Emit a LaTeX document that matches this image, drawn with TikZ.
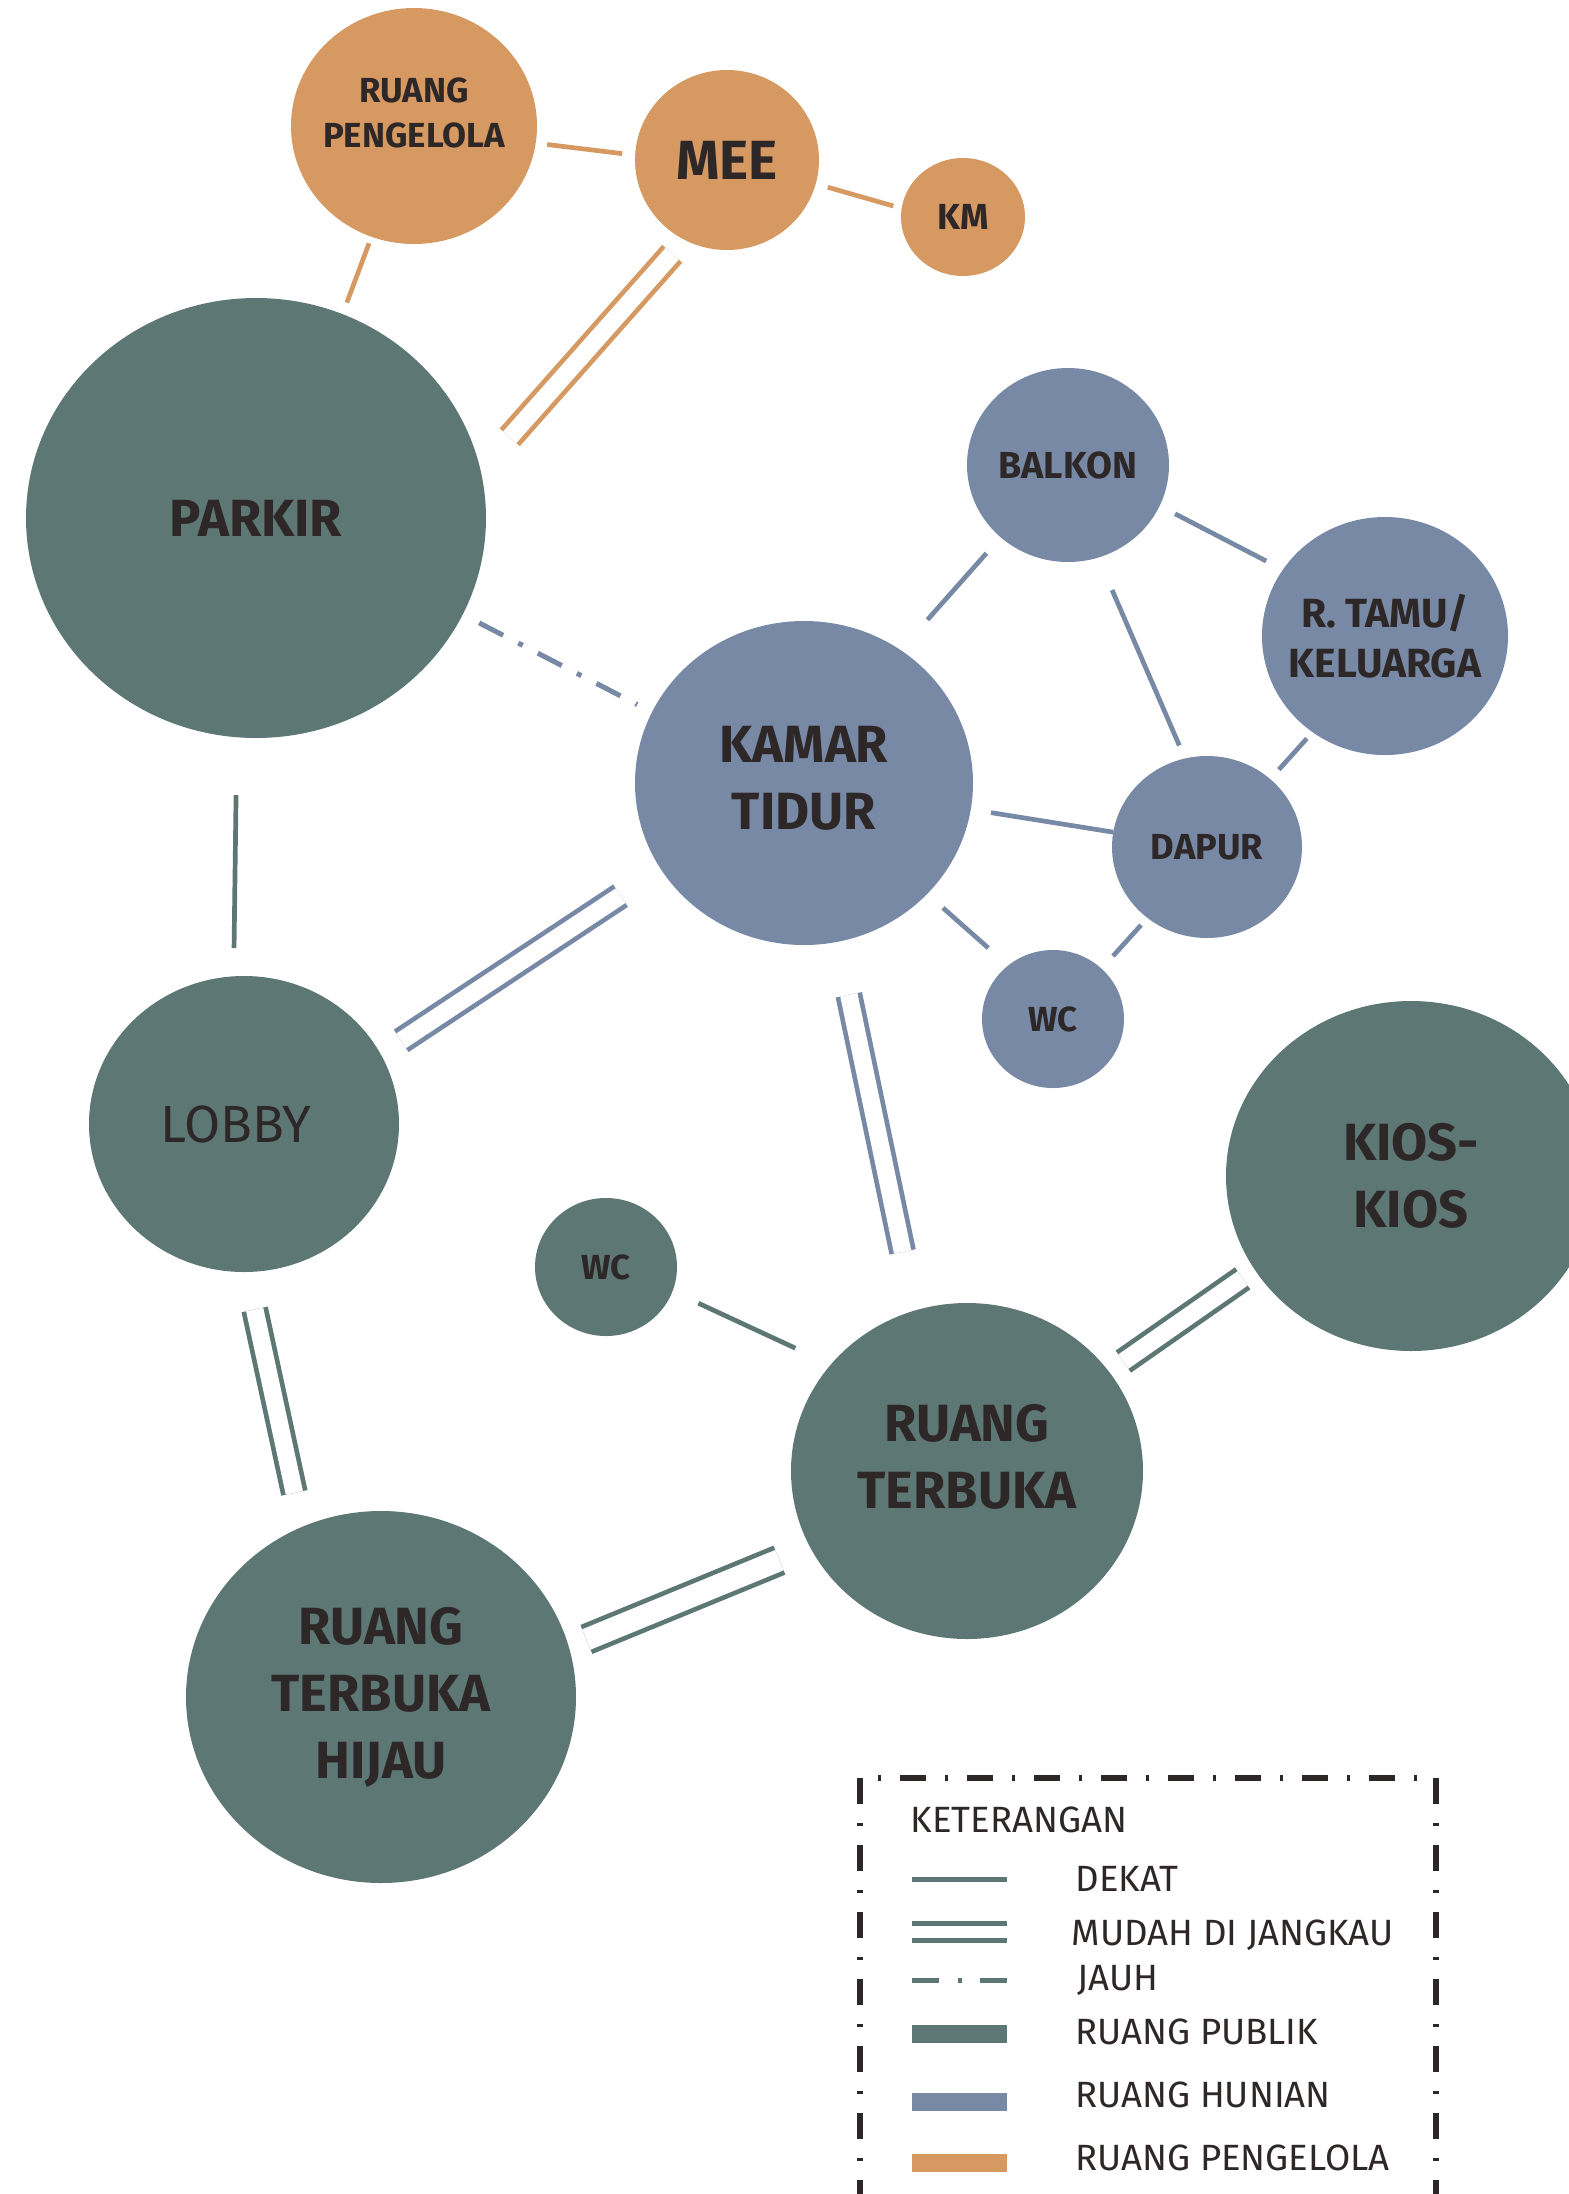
\documentclass[tikz,border=0pt]{standalone}
\usepackage{fontspec}
\setmainfont{Fira Sans}
\usepackage{tikz}
\usetikzlibrary{positioning}
\usetikzlibrary{shapes.geometric}
\usepackage{xcolor}
\definecolor{hijauPublik}{HTML}{5D7774}
\definecolor{biruHunian}{HTML}{7889A6}
\definecolor{oranyePengelola}{HTML}{D69962}
\definecolor{tinta}{HTML}{2E2727}

\tikzset{
  ruang/.style={ellipse, inner sep=-3mm, outer sep=0pt, text=tinta, align=center},
  publik/.style={ruang, fill=hijauPublik},
  hunian/.style={ruang, fill=biruHunian},
  kelola/.style={ruang, fill=oranyePengelola},
  ukuran/.style 2 args={minimum width=#1mm, minimum height=#2mm},
  besar/.style={font=\bfseries\fontsize{14.9}{19.1}\selectfont},
  isi/.style={align=center, text=tinta, inner sep=0pt},
  dekat/.style={line width=0.47mm},
  mudah/.style={line width=0.47mm, double=white, double distance=1.75mm},
  jauh/.style={line width=0.5mm, dash pattern=on 2.7mm off 1.7mm on 0.5mm off 1.7mm},
  ket/.style={anchor=west, inner sep=0pt, text=tinta, font=\fontsize{10.4}{12}\selectfont},
  bingkai/.style={tinta, line width=0.6mm, dash pattern=on 2.6mm off 1.9mm on 0.3mm off 1.9mm}
}

\begin{document}
\begin{tikzpicture}[x=0.1mm, y=-0.1mm]

\useasboundingbox (0,0) rectangle (1569,2194);

\node[kelola, ukuran={24.6}{23.6}, label={[isi, yshift=1.33mm, font=\bfseries\fontsize{9.9}{12.8}\selectfont]center:RUANG\\PENGELOLA}] (pengelola) at (414,126) {};
\node[kelola, ukuran={18.4}{18}, font=\bfseries\fontsize{15.7}{18}\selectfont] (mee) at (727,160) {MEE};
\node[kelola, ukuran={12.4}{11.8}, font=\bfseries\fontsize{10.3}{12}\selectfont] (km) at (963,217) {KM};

\node[publik, ukuran={46}{44}, besar] (parkir) at (256,518) {PARKIR};

\node[hunian, ukuran={20.2}{19.4}, font=\bfseries\fontsize{10.7}{13}\selectfont] (balkon) at (1068,465) {BALKON};
\node[hunian, ukuran={24.6}{23.8}, font=\bfseries\fontsize{11.6}{14.2}\selectfont] (tamu) at (1385,636) {R. TAMU/\\KELUARGA};
\node[hunian, ukuran={33.8}{32.4}, label={[isi, besar, yshift=0.5mm]center:KAMAR\\TIDUR}] (kamar) at (804,783) {};
\node[hunian, ukuran={19}{18.2}, font=\bfseries\fontsize{10.3}{12}\selectfont] (dapur) at (1207,847) {DAPUR};
\node[hunian, ukuran={14.2}{13.8}, font=\bfseries\fontsize{9.9}{12}\selectfont] (wcatas) at (1053,1019) {WC};

\node[publik, ukuran={31}{29.6}, label={[isi, xshift=-0.8mm, font=\fontsize{14.9}{19.1}\selectfont]center:LOBBY}] (lobby) at (244,1124) {};
\node[publik, ukuran={37}{35}, besar] (kios) at (1411,1176) {KIOS-\\KIOS};
\node[publik, ukuran={14.2}{13.8}, font=\bfseries\fontsize{9.9}{12}\selectfont] (wcbawah) at (606,1267) {WC};
\node[publik, ukuran={35.2}{33.6}, label={[isi, besar, yshift=1.4mm]center:RUANG\\TERBUKA}] (terbuka) at (967,1471) {};
\node[publik, ukuran={39}{37.2}, besar] (hijau) at (381,1697) {RUANG\\TERBUKA\\HIJAU};

\draw[oranyePengelola, dekat, shorten <=0.7mm, shorten >=1.24mm] (pengelola.-111.5) -- (parkir.67.6);
\draw[oranyePengelola, dekat, shorten <=1.15mm, shorten >=1.31mm] (pengelola.-8.1) -- (mee.177.8);
\draw[oranyePengelola, dekat, shorten <=1.26mm, shorten >=0.86mm] (mee.-15) -- (km.172.7);
\draw[oranyePengelola, mudah, shorten <=1.86mm, shorten >=4.41mm] (mee.-118) -- (parkir.12);

\draw[biruHunian, jauh, shorten <=1.85mm, shorten >=1.66mm] (parkir.-25.2) -- (kamar.155.7);
\draw[hijauPublik, dekat, shorten <=5.79mm, shorten >=2.83mm] (parkir.-95.5) -- (lobby.94.5);

\draw[biruHunian, dekat, shorten <=2.14mm, shorten >=4.05mm] (balkon.-133) -- (kamar.54.1);
\draw[biruHunian, dekat, shorten <=1.74mm, shorten >=1.88mm] (balkon.-24.6) -- (tamu.147.8);
\draw[biruHunian, dekat, shorten <=3.53mm, shorten >=1.42mm] (balkon.-72) -- (dapur.104.8);
\draw[biruHunian, dekat, shorten <=0.85mm, shorten >=1.28mm] (tamu.-127.8) -- (dapur.47.7);
\draw[biruHunian, dekat, shorten <=2.05mm] (kamar.-9.1) -- (dapur.171.5);
\draw[biruHunian, dekat, shorten <=2.11mm, shorten >=2.65mm] (kamar.-42.4) -- (wcatas.130.8);
\draw[biruHunian, dekat, shorten <=0.96mm, shorten >=1.7mm] (dapur.-130.2) -- (wcatas.46.4);

\draw[biruHunian, mudah, shorten <=4.83mm, shorten >=2.45mm] (kamar.-149.4) -- (lobby.27.3);
\draw[biruHunian, mudah, shorten <=5.42mm, shorten >=5.99mm] (kamar.-78.3) -- (terbuka.108.6);

\draw[hijauPublik, mudah, shorten <=3.83mm, shorten >=3.5mm] (lobby.-89) -- (hijau.115.2);
\draw[hijauPublik, dekat, shorten <=2.86mm, shorten >=3.91mm] (wcbawah.-20.6) -- (terbuka.142.9);
\draw[hijauPublik, mudah, double distance=2.2mm, shorten <=1.91mm, shorten >=3.34mm] (hijau.15.3) -- (terbuka.-154.8);
\draw[hijauPublik, mudah, shorten <=1.49mm, shorten >=1.76mm] (kios.-149.5) -- (terbuka.35.2);

\draw[bingkai] (860,1778) rectangle (1436,2240);

\node[ket] (keterangan) at (910,1820) {KETERANGAN};

\draw[hijauPublik, line width=0.5mm] (912,1879) -- (1007,1879);
\node[ket] (ketdekat) at (1075,1879) {DEKAT};

\draw[hijauPublik, line width=0.5mm, double=white, double distance=1.13mm] (912,1932) -- (1007,1932);
\node[ket] (ketmudah) at (1071,1935) {MUDAH DI JANGKAU};

\draw[hijauPublik, line width=0.5mm, dash pattern=on 2.7mm off 1.9mm on 0.4mm off 1.8mm] (912,1980) -- (1007,1980);
\node[ket] (ketjauh) at (1077,1980) {JAUH};

\fill[hijauPublik] (912,2025) rectangle (1007,2043);
\node[ket] (ketpublik) at (1075,2032) {RUANG PUBLIK};

\fill[biruHunian] (912,2093) rectangle (1007,2111);
\node[ket] (kethunian) at (1075,2095) {RUANG HUNIAN};

\fill[oranyePengelola] (912,2154) rectangle (1007,2172);
\node[ket] (ketpengelola) at (1075,2158) {RUANG PENGELOLA};

\end{tikzpicture}
\end{document}
